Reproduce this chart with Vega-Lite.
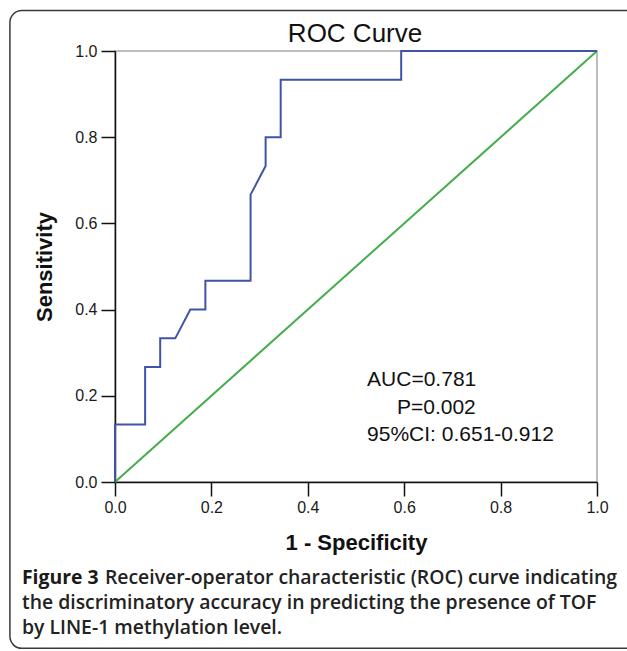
{
  "$schema": "https://vega.github.io/schema/vega-lite/v6.json",
  "width": 482,
  "height": 431,
  "autosize": {"type": "none"},
  "padding": {"left": 115, "top": 51, "right": 30, "bottom": 169},
  "background": "white",
  "config": {
    "view": {"stroke": "#a8a8a8", "strokeWidth": 1.5},
    "axis": {"grid": false, "domainColor": "#111", "domainWidth": 1.5, "tickColor": "#111", "tickWidth": 1.5, "tickSize": 14, "labelFont": "Liberation Sans", "labelFontSize": 16, "labelColor": "#1a1a1a", "titleFont": "Liberation Sans", "titleFontSize": 22, "titleFontWeight": "bold", "titleColor": "#111", "labelFlush": false, "labelOverlap": false}
  },
  "datasets": {
    "roc": [
      {"i": 0, "fpr": 0, "tpr": 0},
      {"i": 1, "fpr": 0, "tpr": 0.1333},
      {"i": 2, "fpr": 0.0625, "tpr": 0.1333},
      {"i": 3, "fpr": 0.0625, "tpr": 0.2667},
      {"i": 4, "fpr": 0.09375, "tpr": 0.2667},
      {"i": 5, "fpr": 0.09375, "tpr": 0.3333},
      {"i": 6, "fpr": 0.125, "tpr": 0.3333},
      {"i": 7, "fpr": 0.15625, "tpr": 0.4},
      {"i": 8, "fpr": 0.1875, "tpr": 0.4},
      {"i": 9, "fpr": 0.1875, "tpr": 0.4667},
      {"i": 10, "fpr": 0.28125, "tpr": 0.4667},
      {"i": 11, "fpr": 0.28125, "tpr": 0.6667},
      {"i": 12, "fpr": 0.3125, "tpr": 0.7333},
      {"i": 13, "fpr": 0.3125, "tpr": 0.8},
      {"i": 14, "fpr": 0.34375, "tpr": 0.8},
      {"i": 15, "fpr": 0.34375, "tpr": 0.9333},
      {"i": 16, "fpr": 0.59375, "tpr": 0.9333},
      {"i": 17, "fpr": 0.59375, "tpr": 1},
      {"i": 18, "fpr": 1, "tpr": 1}
    ],
    "diag": [
      {"i": 0, "fpr": 0, "tpr": 0},
      {"i": 1, "fpr": 1, "tpr": 1}
    ]
  },
  "layer": [
    {
      "data": {"values": [{"k": 1}]},
      "mark": {"type": "rect", "fill": null, "fillOpacity": 0, "stroke": "#3a3a3a", "strokeWidth": 1.5, "cornerRadius": 12, "clip": false},
      "encoding": {
        "x": {"datum": -0.218, "type": "quantitative"},
        "x2": {"datum": 1.2},
        "y": {"datum": 1.094, "type": "quantitative"},
        "y2": {"datum": -0.386}
      }
    },
    {
      "data": {"name": "diag"},
      "mark": {"type": "line", "color": "#44ad4c", "strokeWidth": 2},
      "encoding": {
        "x": {"field": "fpr", "type": "quantitative", "scale": {"domain": [0, 1], "nice": false, "zero": false}, "axis": {"values": [0, 0.2, 0.4, 0.6, 0.8, 1], "format": ".1f", "title": "1 - Specificity", "labelPadding": 3, "titlePadding": 17}},
        "y": {"field": "tpr", "type": "quantitative", "scale": {"domain": [0, 1], "nice": false, "zero": false}, "axis": {"values": [0, 0.2, 0.4, 0.6, 0.8, 1], "format": ".1f", "title": "Sensitivity", "labelPadding": 4, "titlePadding": 18}},
        "order": {"field": "i"}
      }
    },
    {
      "data": {"name": "roc"},
      "mark": {"type": "line", "color": "#4054a6", "strokeWidth": 2},
      "encoding": {
        "x": {"field": "fpr", "type": "quantitative"},
        "y": {"field": "tpr", "type": "quantitative"},
        "order": {"field": "i"}
      }
    },
    {
      "data": {"values": [{"k": 1}]},
      "mark": {"type": "text", "text": "ROC Curve", "font": "Liberation Sans", "fontSize": 26, "color": "#111", "align": "center", "baseline": "alphabetic", "clip": false},
      "encoding": {"x": {"datum": 0.498}, "y": {"datum": 1.02}}
    },
    {
      "data": {"values": [{"k": 1}]},
      "mark": {"type": "text", "text": "AUC=0.781", "font": "Liberation Sans", "fontSize": 21, "color": "#111", "align": "left", "baseline": "alphabetic", "clip": false},
      "encoding": {"x": {"datum": 0.523}, "y": {"datum": 0.222}}
    },
    {
      "data": {"values": [{"k": 1}]},
      "mark": {"type": "text", "text": "P=0.002", "font": "Liberation Sans", "fontSize": 21, "color": "#111", "align": "left", "baseline": "alphabetic", "clip": false},
      "encoding": {"x": {"datum": 0.585}, "y": {"datum": 0.157}}
    },
    {
      "data": {"values": [{"k": 1}]},
      "mark": {"type": "text", "text": "95%CI: 0.651-0.912", "font": "Liberation Sans", "fontSize": 21, "color": "#111", "align": "left", "baseline": "alphabetic", "clip": false},
      "encoding": {"x": {"datum": 0.523}, "y": {"datum": 0.094}}
    },
    {
      "data": {"values": [{"k": 1}]},
      "mark": {"type": "text", "text": "Figure 3", "font": "Open Sans", "fontSize": 19.4, "fontWeight": "bold", "color": "#1a1a1a", "align": "left", "baseline": "alphabetic", "clip": false},
      "encoding": {"x": {"datum": -0.193}, "y": {"datum": -0.2355}}
    },
    {
      "data": {"values": [{"k": 1}]},
      "mark": {"type": "text", "text": "Receiver-operator characteristic (ROC) curve indicating", "font": "Open Sans", "fontSize": 19.4, "fontWeight": 600, "color": "#222", "align": "left", "baseline": "alphabetic", "clip": false},
      "encoding": {"x": {"datum": -0.021}, "y": {"datum": -0.2355}}
    },
    {
      "data": {"values": [{"k": 1}]},
      "mark": {"type": "text", "text": "the discriminatory accuracy in predicting the presence of TOF", "font": "Open Sans", "fontSize": 19.4, "fontWeight": 600, "color": "#222", "align": "left", "baseline": "alphabetic", "clip": false},
      "encoding": {"x": {"datum": -0.193}, "y": {"datum": -0.2947}}
    },
    {
      "data": {"values": [{"k": 1}]},
      "mark": {"type": "text", "text": "by LINE-1 methylation level.", "font": "Open Sans", "fontSize": 19.4, "fontWeight": 600, "color": "#222", "align": "left", "baseline": "alphabetic", "clip": false},
      "encoding": {"x": {"datum": -0.193}, "y": {"datum": -0.3538}}
    }
  ]
}
